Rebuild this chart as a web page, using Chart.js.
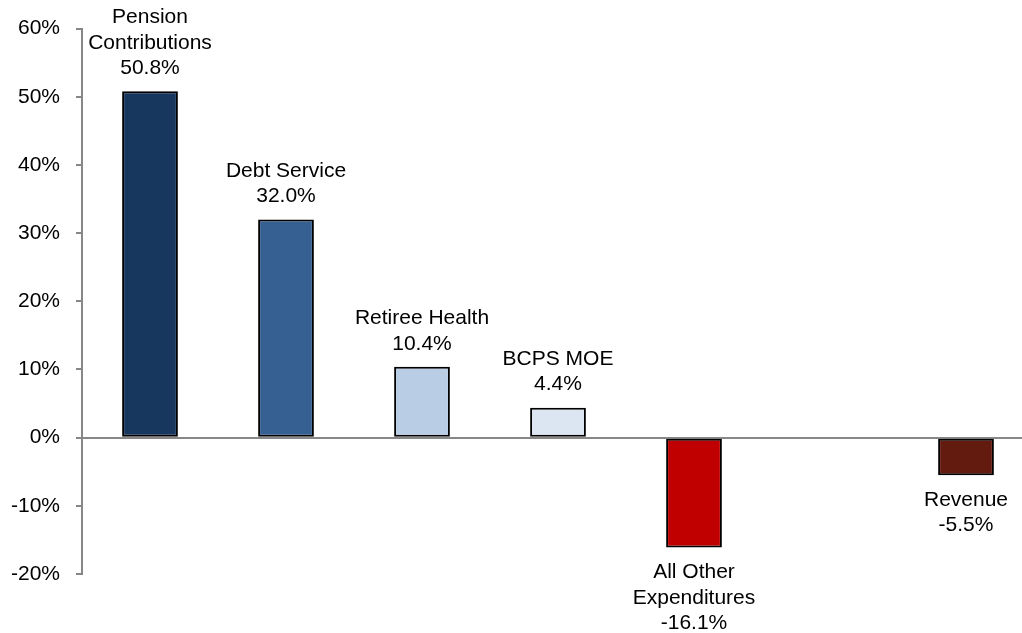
<!DOCTYPE html>
<html>
<head>
<meta charset="utf-8">
<script src="https://cdn.jsdelivr.net/npm/chart.js@4.4.0/dist/chart.umd.min.js"></script>
<style>
    html, body { margin: 0; padding: 0; background: #fff; overflow: hidden; }
    #wrap { position: absolute; left: 0; top: 0; width: 1040px; height: 633px; }
</style>
</head>
<body>
<div id="wrap"><canvas id="change-chart" width="1040" height="633"></canvas></div>
<script>
// Catégories (un slot vide entre dépenses et revenus)
const categories = [
    ['Pension', 'Contributions'],
    ['Debt Service'],
    ['Retiree Health'],
    ['BCPS MOE'],
    ['All Other', 'Expenditures'],
    [''],
    ['Revenue']
];
const values = [50.8, 32.0, 10.4, 4.4, -16.1, null, -5.5];
const barColors = ['#17375E', '#376092', '#B9CDE5', '#DCE6F2', '#C00000', '#FFFFFF', '#631A0F'];
const yTicks = [-20, -10, 0, 10, 20, 30, 40, 50, 60];

const FONT = '"Liberation Sans", Arial, sans-serif';

/**
 * Étiquettes au-dessus / en dessous des barres : nom + valeur
 */
const barLabels = {
    id: 'barLabels',
    afterDatasetsDraw(chart) {
        const ctx = chart.ctx;
        const meta = chart.getDatasetMeta(0);
        const lineH = 25.5;
        ctx.save();
        ctx.font = '21px ' + FONT;
        ctx.fillStyle = '#000';
        ctx.textAlign = 'center';
        ctx.textBaseline = 'middle';
        meta.data.forEach((bar, i) => {
            const v = values[i];
            if (v === null) return;
            const lines = categories[i].concat([v.toFixed(1) + '%']);
            if (v >= 0) {
                let y = bar.y - 23 - (lines.length - 1) * lineH;
                lines.forEach(t => { ctx.fillText(t, bar.x, y); y += lineH; });
            } else {
                let y = bar.y + 25;
                lines.forEach(t => { ctx.fillText(t, bar.x, y); y += lineH; });
            }
        });
        ctx.restore();
    }
};

new Chart(document.getElementById('change-chart'), {
    type: 'bar',
    data: {
        labels: categories,
        datasets: [{
            data: values,
            backgroundColor: barColors,
            borderColor: '#000',
            borderWidth: 2,
            borderSkipped: false,
            categoryPercentage: 1,
            barPercentage: 0.41,
        }]
    },
    options: {
        responsive: false,
        animation: false,
        devicePixelRatio: 1,
        layout: {
            padding: { top: 28, right: 6, bottom: 59, left: 0 }
        },
        plugins: {
            legend: { display: false },
            tooltip: { enabled: false },
        },
        scales: {
            x: {
                display: false,
            },
            y: {
                min: -20,
                max: 60,
                afterBuildTicks(scale) {
                    scale.ticks = yTicks.map(v => ({ value: v }));
                },
                afterFit(scale) {
                    scale.width = 82;
                },
                border: { display: true, color: '#878787', width: 2 },
                grid: {
                    drawOnChartArea: true,
                    color: c => (c.tick && c.tick.value === 0) ? '#878787' : 'rgba(0,0,0,0)',
                    tickColor: '#878787',
                    tickLength: 6,
                    lineWidth: 2,
                },
                ticks: {
                    color: '#000',
                    padding: 16,
                    font: { family: FONT, size: 21 },
                    callback: v => v + '%',
                }
            }
        }
    },
    plugins: [barLabels]
});
</script>
</body>
</html>
